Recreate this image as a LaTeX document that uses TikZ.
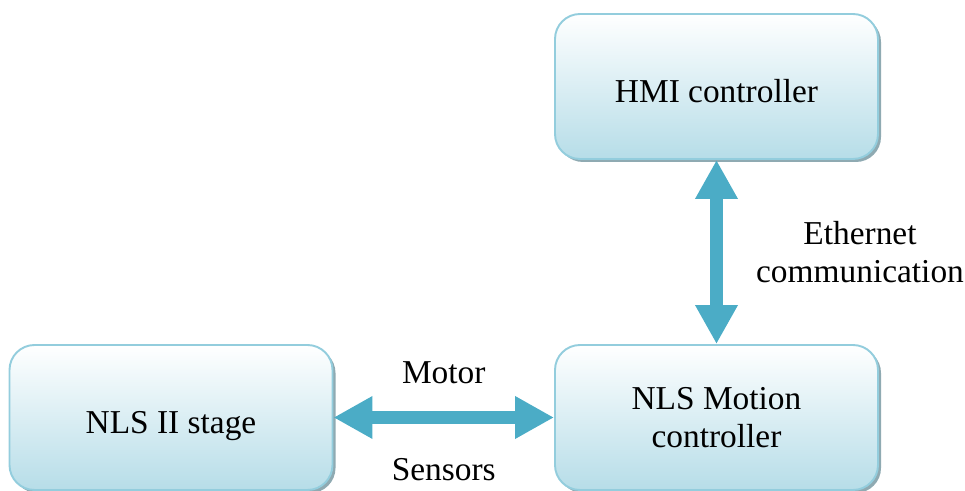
\documentclass[tikz,border=0pt]{standalone}
\usepackage{fontspec}
\setmainfont{Liberation Serif}
\usepackage{tikz}
\usetikzlibrary{arrows.meta}
\usetikzlibrary{shadows}
\definecolor{boxline}{HTML}{93CDDD}
\definecolor{boxfill}{HTML}{B6DDE8}
\definecolor{arrowblue}{HTML}{4BACC6}
\definecolor{shadowgrey}{HTML}{8FAAB2}
\tikzset{
block/.style={rectangle, rounded corners=0.5cm, draw=boxline, line width=1.1pt,
  top color=white, middle color=boxfill!35, bottom color=boxfill,
  minimum width=6.46cm, minimum height=2.9cm, align=center,
  drop shadow={shadow xshift=0.06cm, shadow yshift=-0.06cm, fill=shadowgrey, opacity=1}},
oneline/.style={text height=0.8cm, text depth=0.16cm},
link/.style={draw=arrowblue, line width=0.27cm,
  {Triangle[length=0.78cm,width=0.8cm]}-{Triangle[length=0.78cm,width=0.8cm]}}
}

\begin{document}
\begin{tikzpicture}[font=\fontsize{19}{21.6}\selectfont]
    \useasboundingbox (0,0) rectangle (19.3,-9.82);

                \node[block, oneline] (HMI) at (14.33,-1.73) {HMI controller};
                \node[block] (NLS) at (14.33,-8.35) {NLS Motion\\controller};
                \node[block, oneline] (Stage) at (3.42,-8.35) {NLS II stage};

                \draw[link] (HMI) -- (NLS) node[midway, xshift=2.87cm, align=center] {Ethernet\\communication};
                \draw[link] (Stage) -- (NLS) node[midway, yshift=0.9cm] {Motor}
                                             node[midway, yshift=-1.04cm] {Sensors};

            \end{tikzpicture}
\end{document}
